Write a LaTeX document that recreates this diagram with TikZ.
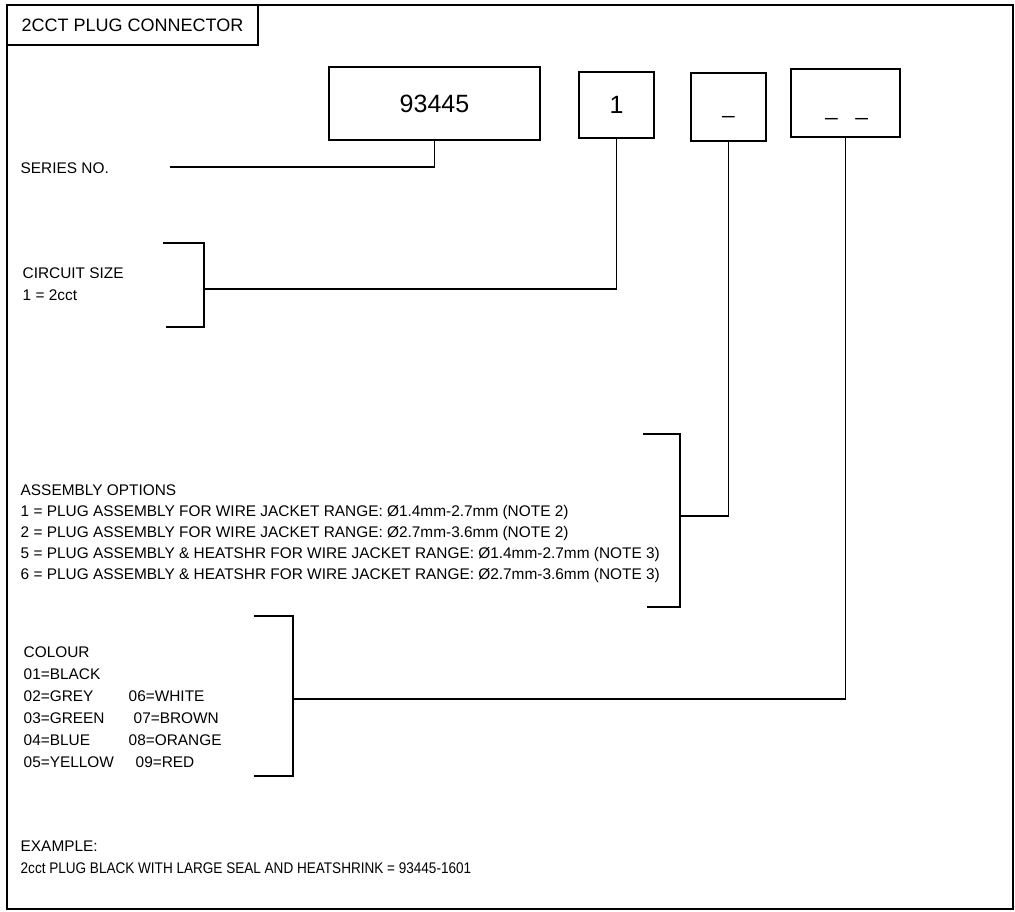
\documentclass[tikz,border=0pt]{standalone}
\usepackage{fontspec}
\setmainfont{Liberation Sans}
\begin{document}
\begin{tikzpicture}[x=1pt,y=-1pt,line width=1.4pt,
  txt/.style={anchor=base west,inner sep=0pt,font=\fontsize{15.4}{18}\selectfont},
  codebox/.style={draw,inner sep=0pt,font=\fontsize{25}{28}\selectfont},
  dashtxt/.style={anchor=base,inner sep=0pt,font=\fontsize{22}{24}\selectfont}]
\useasboundingbox (0,0) rectangle (1015,911);
% frame and title
\draw[line width=1.2pt] (7,5) rectangle (1013,909);
\node[draw,inner sep=0pt,minimum width=251pt,minimum height=40pt,font=\fontsize{18}{20}\selectfont] (title) at (132.5,25) {2CCT PLUG CONNECTOR};
% code boxes
\node[codebox,minimum width=211pt,minimum height=73pt] (b1) at (434.5,103.5) {93445};
\node[codebox,minimum width=75pt,minimum height=66pt] (b2) at (616.5,105) {1};
\node[codebox,minimum width=75pt,minimum height=68pt] (b3) at (728.5,107) {};
\node[codebox,minimum width=109pt,minimum height=68pt] (b4) at (845.5,103) {};
\node[dashtxt] (d3) at (728.5,113) {\_};
\node[dashtxt] (d4) at (846.5,115) {\_\hspace{18pt}\_};
% labels
\node[txt] (series) at (20,173.5) {SERIES  NO.};
\node[txt] (cs1) at (22,278) {CIRCUIT  SIZE};
\node[txt] (cs2) at (22,300) {1  =  2cct};
\node[txt] (as0) at (20,495) {ASSEMBLY  OPTIONS};
\node[txt] (as1) at (20,516.5) {1 = PLUG ASSEMBLY FOR WIRE JACKET RANGE: Ø1.4mm-2.7mm (NOTE 2)};
\node[txt] (as2) at (20,537.5) {2 = PLUG ASSEMBLY FOR WIRE JACKET RANGE: Ø2.7mm-3.6mm (NOTE 2)};
\node[txt] (as5) at (20,558.5) {5 = PLUG ASSEMBLY \& HEATSHR FOR WIRE JACKET RANGE: Ø1.4mm-2.7mm (NOTE 3)};
\node[txt] (as6) at (20,579.5) {6 = PLUG ASSEMBLY \& HEATSHR FOR WIRE JACKET RANGE: Ø2.7mm-3.6mm (NOTE 3)};
\node[txt] (c0) at (23,657.5) {COLOUR};
\node[txt] (c1) at (23,679.5) {01=BLACK};
\node[txt] (c2) at (23,701.5) {02=GREY};
\node[txt] (c3) at (23,723.5) {03=GREEN};
\node[txt] (c4) at (23,745.5) {04=BLUE};
\node[txt] (c5) at (23,767.5) {05=YELLOW};
\node[txt] (c6) at (128,701.5) {06=WHITE};
\node[txt] (c7) at (133,723.5) {07=BROWN};
\node[txt] (c8) at (128,745.5) {08=ORANGE};
\node[txt] (c9) at (135,767.5) {09=RED};
\node[txt] (ex0) at (20,851.5) {EXAMPLE:};
\node[txt] (ex1) at (20,873.5) {\scalebox{0.88}[1]{2cct PLUG BLACK WITH LARGE SEAL AND HEATSHRINK = 93445-1601}};
% brackets
\coordinate (snEnd) at (170,167);
\draw (163,243) -- (204,243) -- (204,327) -- (166,327);
\coordinate (csJ) at (204,289);
\draw (643,434) -- (680,434) -- (680,607) -- (647,607);
\coordinate (asJ) at (680,516);
\draw (254,616) -- (293,616) -- (293,776) -- (254,776);
\coordinate (coJ) at (293,699);
% connectors
\draw (b1.south) |- (snEnd);
\draw (b2.south) |- (csJ);
\draw (b3.south) |- (asJ);
\draw (b4.south) |- (coJ);
\end{tikzpicture}
\end{document}
